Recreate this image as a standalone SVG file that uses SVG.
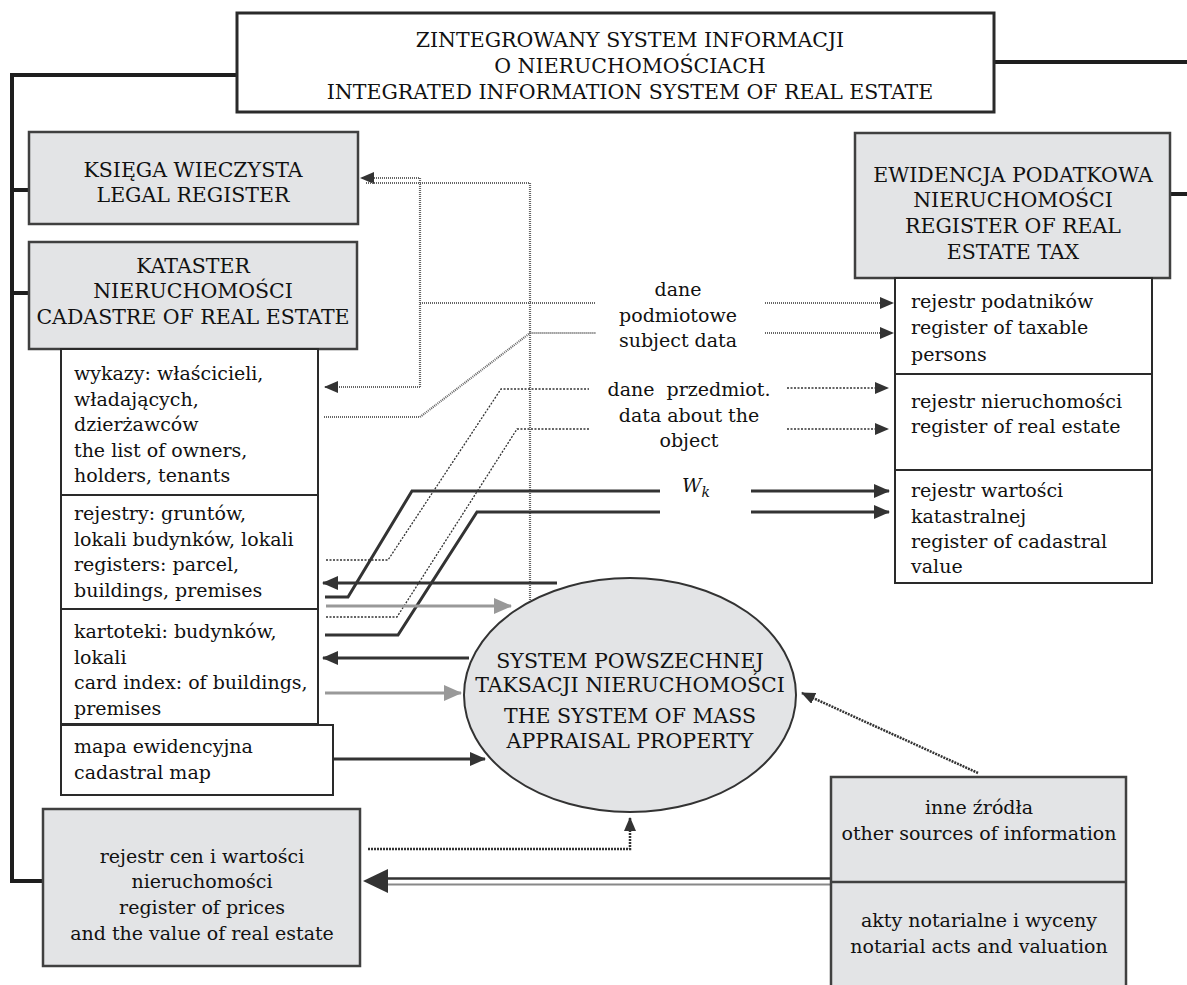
<svg xmlns="http://www.w3.org/2000/svg" width="1187" height="985" viewBox="0 0 1187 985">
<style>
text{font-family:"DejaVu Serif","Liberation Serif",serif;fill:#111}
.cap{font-size:20.5px}
.low{font-size:19px}
.mid{text-anchor:middle}
.wbox{fill:#fff;stroke:#2a2a2a;stroke-width:2}
.gbox{fill:#e3e4e6;stroke:#404040;stroke-width:2.5}
.frame{fill:none;stroke:#1e1e1e;stroke-width:4}
.dg{fill:none;stroke:#666;stroke-width:2.2;stroke-dasharray:1 1}
.dt{fill:none;stroke:#333;stroke-width:1.3;stroke-dasharray:2 1.5}
.dk{fill:none;stroke:#333;stroke-width:2.5;stroke-dasharray:2 1}
.th{fill:none;stroke:#333;stroke-width:3}
.gr{fill:none;stroke:#999;stroke-width:3}
</style>
<defs>
<marker id="ah" markerUnits="userSpaceOnUse" markerWidth="16" markerHeight="16" refX="15" refY="8" orient="auto"><path d="M0,1 L16,8 L0,15 z" fill="#333"/></marker>
<marker id="ahs" markerUnits="userSpaceOnUse" markerWidth="14" markerHeight="12" refX="13" refY="6" orient="auto"><path d="M0,0 L14,6 L0,12 z" fill="#333"/></marker>
<marker id="ahg" markerUnits="userSpaceOnUse" markerWidth="18" markerHeight="16" refX="17" refY="8" orient="auto"><path d="M0,0 L18,8 L0,16 z" fill="#999"/></marker>
</defs>

<g id="connectors">
<path class="frame" d="M237 75 H12 V881 H43"/>
<path class="frame" d="M12 190 H29"/>
<path class="frame" d="M12 293 H29"/>
<path class="frame" d="M994 62 H1187"/>
<path class="frame" d="M1170 194 H1187"/>

<path class="dg" d="M420 387 V178 H361" marker-end="url(#ahs)"/>
<path class="dg" d="M420 303 H595"/>
<path class="dg" d="M420 387 H325" marker-end="url(#ahs)"/>
<path class="dg" d="M366 183 H530 V622" marker-end="url(#ahs)"/>
<path class="dg" d="M324 417 H420 L530 333 H596"/>
<path class="dg" d="M765 303 H893" marker-end="url(#ahs)"/>
<path class="dg" d="M765 333 H893" marker-end="url(#ahs)"/>

<path class="dt" d="M326 560 H388 L501 389 H589"/>
<path class="dt" d="M326 617 H397 L517 429 H589"/>
<path class="dt" d="M787 388 H888" marker-end="url(#ahs)"/>
<path class="dt" d="M787 429 H888" marker-end="url(#ahs)"/>

<path class="th" d="M325 597 H348 L412 491 H660"/>
<path class="th" d="M325 635 H398 L477 512 H660"/>
<path class="th" d="M751 491 H889" marker-end="url(#ah)"/>
<path class="th" d="M751 512 H889" marker-end="url(#ah)"/>
<path class="th" d="M557 583 H323" marker-end="url(#ah)"/>
<path class="th" d="M469 658 H323" marker-end="url(#ah)"/>
<path class="th" d="M333 759 H485" marker-end="url(#ah)"/>

<path class="gr" d="M326 606 H511" marker-end="url(#ahg)"/>
<path class="gr" d="M325 693 H461" marker-end="url(#ahg)"/>

<path class="dk" d="M368 849 H630 V818" marker-end="url(#ahs)"/>
<path class="dk" d="M978 773 L802 693" marker-end="url(#ahs)"/>

<path d="M831 878.5 H385" fill="none" stroke="#333" stroke-width="2.5"/>
<path d="M831 884.5 H385" fill="none" stroke="#888" stroke-width="2"/>
<polygon points="363,881 388,869 388,893" fill="#333"/>
</g>

<g id="node-top">
<rect class="wbox" x="237" y="13" width="757" height="99" style="stroke-width:3"/>
<text class="cap mid" x="630" y="47">ZINTEGROWANY SYSTEM INFORMACJI</text>
<text class="cap mid" x="630" y="73">O NIERUCHOMOŚCIACH</text>
<text class="cap mid" x="630" y="99">INTEGRATED INFORMATION SYSTEM OF REAL ESTATE</text>
</g>

<g id="node-ksiega">
<rect class="gbox" x="29" y="132" width="329" height="92"/>
<text class="cap mid" x="193" y="177">KSIĘGA WIECZYSTA</text>
<text class="cap mid" x="193" y="202">LEGAL REGISTER</text>
</g>

<g id="node-kataster">
<rect class="gbox" x="29" y="242" width="328" height="107"/>
<text class="cap mid" x="193" y="273">KATASTER</text>
<text class="cap mid" x="193" y="298">NIERUCHOMOŚCI</text>
<text class="cap mid" x="193" y="324">CADASTRE OF REAL ESTATE</text>
</g>

<g id="node-wykazy">
<rect class="wbox" x="61" y="349" width="257" height="146"/>
<text class="low" x="74" y="380">wykazy: właścicieli,</text>
<text class="low" x="74" y="405.5">władających,</text>
<text class="low" x="74" y="431">dzierżawców</text>
<text class="low" x="74" y="456.5">the list of owners,</text>
<text class="low" x="74" y="482">holders, tenants</text>
</g>

<g id="node-rejestry">
<rect class="wbox" x="61" y="495" width="257" height="114"/>
<text class="low" x="74" y="520">rejestry: gruntów,</text>
<text class="low" x="74" y="545.5">lokali budynków, lokali</text>
<text class="low" x="74" y="571">registers: parcel,</text>
<text class="low" x="74" y="596.5">buildings, premises</text>
</g>

<g id="node-kartoteki">
<rect class="wbox" x="61" y="609" width="257" height="115"/>
<text class="low" x="74" y="638">kartoteki: budynków,</text>
<text class="low" x="74" y="664">lokali</text>
<text class="low" x="74" y="689">card index: of buildings,</text>
<text class="low" x="74" y="715">premises</text>
</g>

<g id="node-mapa">
<rect class="wbox" x="61" y="725" width="272" height="70"/>
<text class="low" x="74" y="753">mapa ewidencyjna</text>
<text class="low" x="74" y="779">cadastral map</text>
</g>

<g id="node-rejestr-cen">
<rect class="gbox" x="43" y="809" width="317" height="157"/>
<text class="low mid" x="202" y="863">rejestr cen i wartości</text>
<text class="low mid" x="202" y="888">nieruchomości</text>
<text class="low mid" x="202" y="914">register of prices</text>
<text class="low mid" x="202" y="940">and the value of real estate</text>
</g>

<g id="node-ewidencja">
<rect class="gbox" x="855" y="133" width="315" height="145"/>
<text class="cap mid" x="1013" y="182">EWIDENCJA PODATKOWA</text>
<text class="cap mid" x="1013" y="207">NIERUCHOMOŚCI</text>
<text class="cap mid" x="1013" y="233">REGISTER OF REAL</text>
<text class="cap mid" x="1013" y="259">ESTATE TAX</text>
</g>

<g id="node-podatnikow">
<rect class="wbox" x="895" y="278" width="257" height="96"/>
<text class="low" x="911" y="308">rejestr podatników</text>
<text class="low" x="911" y="334">register of taxable</text>
<text class="low" x="911" y="361">persons</text>
</g>

<g id="node-nieruchomosci">
<rect class="wbox" x="895" y="374" width="257" height="96"/>
<text class="low" x="911" y="408">rejestr nieruchomości</text>
<text class="low" x="911" y="433">register of real estate</text>
</g>

<g id="node-wartosci">
<rect class="wbox" x="895" y="470" width="257" height="113"/>
<text class="low" x="911" y="497">rejestr wartości</text>
<text class="low" x="911" y="523">katastralnej</text>
<text class="low" x="911" y="548">register of cadastral</text>
<text class="low" x="911" y="573">value</text>
</g>

<g id="node-system">
<ellipse cx="630" cy="695" rx="166" ry="117" fill="#e3e4e6" stroke="#333" stroke-width="2"/>
<text class="cap mid" x="630" y="668">SYSTEM POWSZECHNEJ</text>
<text class="cap mid" x="630" y="692">TAKSACJI NIERUCHOMOŚCI</text>
<text class="cap mid" x="630" y="723">THE SYSTEM OF MASS</text>
<text class="cap mid" x="630" y="748">APPRAISAL PROPERTY</text>
</g>

<g id="node-sources">
<rect class="gbox" x="831" y="777" width="295" height="215"/>
<line x1="831" y1="882" x2="1126" y2="882" stroke="#404040" stroke-width="2.5"/>
<text class="low mid" x="979" y="814">inne źródła</text>
<text class="low mid" x="979" y="840">other sources of information</text>
<text class="low mid" x="979" y="927">akty notarialne i wyceny</text>
<text class="low mid" x="979" y="953">notarial acts and valuation</text>
</g>

<g id="labels">
<text class="low mid" x="678" y="296">dane</text>
<text class="low mid" x="678" y="322">podmiotowe</text>
<text class="low mid" x="678" y="347">subject data</text>
<text class="low mid" x="689" y="396" xml:space="preserve">dane  przedmiot.</text>
<text class="low mid" x="689" y="422">data about the</text>
<text class="low mid" x="689" y="447">object</text>
<text class="low" x="682" y="492" font-style="italic">W<tspan font-size="14" dy="5">k</tspan></text>
</g>
</svg>
